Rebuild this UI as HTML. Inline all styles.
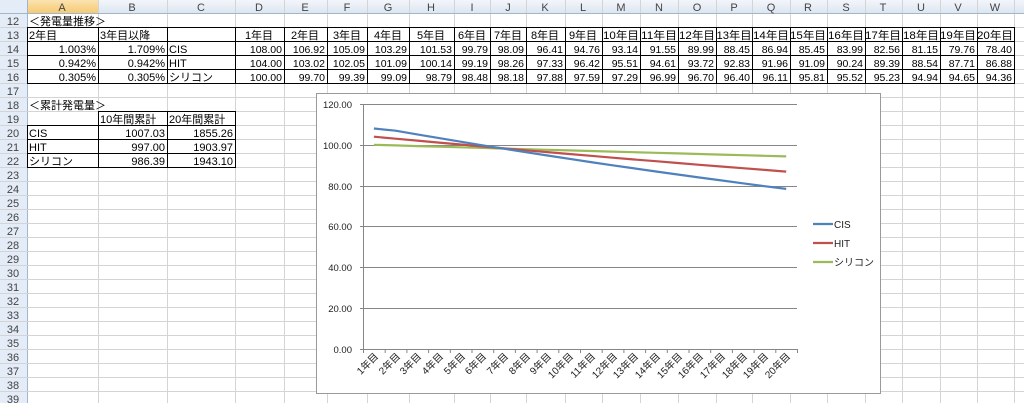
<!DOCTYPE html>
<html><head><meta charset="utf-8"><style>
html,body{margin:0;padding:0;background:#fff;}
svg{display:block;}
text{font-family:"Liberation Sans","Noto Sans CJK JP",sans-serif;}
</style></head><body>
<svg width="1024" height="403" viewBox="0 0 1024 403" xmlns="http://www.w3.org/2000/svg">
<defs><linearGradient id="hg" x1="0" y1="0" x2="0" y2="1"><stop offset="0" stop-color="#f3f6fb"/><stop offset="1" stop-color="#dce4ef"/></linearGradient>
<linearGradient id="ag" x1="0" y1="0" x2="0" y2="1"><stop offset="0" stop-color="#fbe3b0"/><stop offset="1" stop-color="#f5c870"/></linearGradient></defs>
<rect width="1024" height="403" fill="#fff"/>
<rect x="0" y="0" width="1024" height="14" fill="url(#hg)"/>
<rect x="0" y="0" width="27" height="403" fill="#e4ecf7"/>
<rect x="27" y="0" width="71" height="14" fill="url(#ag)"/>
<g stroke="#d4d4d4" stroke-width="1">
<line x1="27.5" y1="0" x2="27.5" y2="403" stroke="#9eb6ce"/>
<line x1="98.5" y1="0" x2="98.5" y2="403"/><line x1="167.5" y1="0" x2="167.5" y2="403"/><line x1="235.5" y1="0" x2="235.5" y2="403"/><line x1="284.5" y1="0" x2="284.5" y2="403"/><line x1="327.5" y1="0" x2="327.5" y2="403"/><line x1="367.5" y1="0" x2="367.5" y2="403"/><line x1="409.5" y1="0" x2="409.5" y2="403"/><line x1="454.5" y1="0" x2="454.5" y2="403"/><line x1="490.5" y1="0" x2="490.5" y2="403"/><line x1="526.5" y1="0" x2="526.5" y2="403"/><line x1="565.5" y1="0" x2="565.5" y2="403"/><line x1="602.5" y1="0" x2="602.5" y2="403"/><line x1="640.5" y1="0" x2="640.5" y2="403"/><line x1="678.5" y1="0" x2="678.5" y2="403"/><line x1="716.5" y1="0" x2="716.5" y2="403"/><line x1="752.5" y1="0" x2="752.5" y2="403"/><line x1="790.5" y1="0" x2="790.5" y2="403"/><line x1="827.5" y1="0" x2="827.5" y2="403"/><line x1="865.5" y1="0" x2="865.5" y2="403"/><line x1="902.5" y1="0" x2="902.5" y2="403"/><line x1="940.5" y1="0" x2="940.5" y2="403"/><line x1="977.5" y1="0" x2="977.5" y2="403"/><line x1="1014.5" y1="0" x2="1014.5" y2="403"/>
<line x1="0" y1="13.5" x2="1024" y2="13.5" stroke="#9eb6ce"/>
<line x1="0" y1="27.5" x2="1024" y2="27.5"/><line x1="0" y1="41.5" x2="1024" y2="41.5"/><line x1="0" y1="55.5" x2="1024" y2="55.5"/><line x1="0" y1="69.5" x2="1024" y2="69.5"/><line x1="0" y1="83.5" x2="1024" y2="83.5"/><line x1="0" y1="97.5" x2="1024" y2="97.5"/><line x1="0" y1="111.5" x2="1024" y2="111.5"/><line x1="0" y1="125.5" x2="1024" y2="125.5"/><line x1="0" y1="139.5" x2="1024" y2="139.5"/><line x1="0" y1="153.5" x2="1024" y2="153.5"/><line x1="0" y1="167.5" x2="1024" y2="167.5"/><line x1="0" y1="181.5" x2="1024" y2="181.5"/><line x1="0" y1="195.5" x2="1024" y2="195.5"/><line x1="0" y1="209.5" x2="1024" y2="209.5"/><line x1="0" y1="223.5" x2="1024" y2="223.5"/><line x1="0" y1="237.5" x2="1024" y2="237.5"/><line x1="0" y1="251.5" x2="1024" y2="251.5"/><line x1="0" y1="265.5" x2="1024" y2="265.5"/><line x1="0" y1="279.5" x2="1024" y2="279.5"/><line x1="0" y1="293.5" x2="1024" y2="293.5"/><line x1="0" y1="307.5" x2="1024" y2="307.5"/><line x1="0" y1="321.5" x2="1024" y2="321.5"/><line x1="0" y1="335.5" x2="1024" y2="335.5"/><line x1="0" y1="349.5" x2="1024" y2="349.5"/><line x1="0" y1="363.5" x2="1024" y2="363.5"/><line x1="0" y1="377.5" x2="1024" y2="377.5"/><line x1="0" y1="391.5" x2="1024" y2="391.5"/>
</g>
<g font-size="11" fill="#444" text-anchor="middle">
<text x="62" y="11">A</text><text x="132" y="11">B</text><text x="201" y="11">C</text><text x="259" y="11">D</text><text x="305" y="11">E</text><text x="347" y="11">F</text><text x="388" y="11">G</text><text x="431" y="11">H</text><text x="472" y="11">I</text><text x="508" y="11">J</text><text x="545" y="11">K</text><text x="583" y="11">L</text><text x="621" y="11">M</text><text x="659" y="11">N</text><text x="697" y="11">O</text><text x="734" y="11">P</text><text x="771" y="11">Q</text><text x="808" y="11">R</text><text x="846" y="11">S</text><text x="883" y="11">T</text><text x="921" y="11">U</text><text x="958" y="11">V</text><text x="995" y="11">W</text>
</g>
<g font-size="11" fill="#444" text-anchor="middle">
<text x="13" y="25">12</text><text x="13" y="39">13</text><text x="13" y="53">14</text><text x="13" y="67">15</text><text x="13" y="81">16</text><text x="13" y="95">17</text><text x="13" y="109">18</text><text x="13" y="123">19</text><text x="13" y="137">20</text><text x="13" y="151">21</text><text x="13" y="165">22</text><text x="13" y="179">23</text><text x="13" y="193">24</text><text x="13" y="207">25</text><text x="13" y="221">26</text><text x="13" y="235">27</text><text x="13" y="249">28</text><text x="13" y="263">29</text><text x="13" y="277">30</text><text x="13" y="291">31</text><text x="13" y="305">32</text><text x="13" y="319">33</text><text x="13" y="333">34</text><text x="13" y="347">35</text><text x="13" y="361">36</text><text x="13" y="375">37</text><text x="13" y="389">38</text><text x="13" y="403">39</text>
</g>
<g stroke="#000" stroke-width="1" fill="none">
<rect x="27.5" y="27.5" width="987" height="56"/>
<line x1="27" y1="41.5" x2="1014" y2="41.5"/><line x1="27" y1="55.5" x2="1014" y2="55.5"/><line x1="27" y1="69.5" x2="1014" y2="69.5"/>
<line x1="98.5" y1="28" x2="98.5" y2="84"/><line x1="167.5" y1="28" x2="167.5" y2="84"/><line x1="235.5" y1="28" x2="235.5" y2="84"/><line x1="284.5" y1="28" x2="284.5" y2="84"/><line x1="327.5" y1="28" x2="327.5" y2="84"/><line x1="367.5" y1="28" x2="367.5" y2="84"/><line x1="409.5" y1="28" x2="409.5" y2="84"/><line x1="454.5" y1="28" x2="454.5" y2="84"/><line x1="490.5" y1="28" x2="490.5" y2="84"/><line x1="526.5" y1="28" x2="526.5" y2="84"/><line x1="565.5" y1="28" x2="565.5" y2="84"/><line x1="602.5" y1="28" x2="602.5" y2="84"/><line x1="640.5" y1="28" x2="640.5" y2="84"/><line x1="678.5" y1="28" x2="678.5" y2="84"/><line x1="716.5" y1="28" x2="716.5" y2="84"/><line x1="752.5" y1="28" x2="752.5" y2="84"/><line x1="790.5" y1="28" x2="790.5" y2="84"/><line x1="827.5" y1="28" x2="827.5" y2="84"/><line x1="865.5" y1="28" x2="865.5" y2="84"/><line x1="902.5" y1="28" x2="902.5" y2="84"/><line x1="940.5" y1="28" x2="940.5" y2="84"/><line x1="977.5" y1="28" x2="977.5" y2="84"/>
<line x1="98" y1="111.5" x2="236" y2="111.5"/><line x1="27" y1="125.5" x2="236" y2="125.5"/><line x1="27" y1="139.5" x2="236" y2="139.5"/><line x1="27" y1="153.5" x2="236" y2="153.5"/><line x1="27" y1="167.5" x2="236" y2="167.5"/>
<line x1="27.5" y1="125" x2="27.5" y2="168"/><line x1="98.5" y1="111" x2="98.5" y2="168"/><line x1="167.5" y1="111" x2="167.5" y2="168"/><line x1="235.5" y1="111" x2="235.5" y2="168"/>
</g>
<g font-size="11" fill="#000">
<text x="29" y="25">＜発電量推移＞</text>
<text x="29" y="39">2年目</text><text x="100" y="39">3年目以降</text>
<text x="29" y="109">＜累計発電量＞</text>
<text x="169" y="53">CIS</text><text x="169" y="67">HIT</text><text x="169" y="81">シリコン</text>
<text x="100" y="123">10年間累計</text><text x="169" y="123">20年間累計</text>
<text x="29" y="137">CIS</text><text x="29" y="151">HIT</text><text x="29" y="165">シリコン</text>
</g>
<g font-size="11" fill="#000" text-anchor="end">
<text x="96" y="53">1.003%</text><text x="96" y="67">0.942%</text><text x="96" y="81">0.305%</text>
<text x="165" y="53">1.709%</text><text x="165" y="67">0.942%</text><text x="165" y="81">0.305%</text>
<text x="165" y="137">1007.03</text><text x="165" y="151">997.00</text><text x="165" y="165">986.39</text>
<text x="233" y="137">1855.26</text><text x="233" y="151">1903.97</text><text x="233" y="165">1943.10</text>
</g>
<g font-size="11" fill="#000" text-anchor="middle">
<text x="259" y="39">1年目</text><text x="305" y="39">2年目</text><text x="347" y="39">3年目</text><text x="388" y="39">4年目</text><text x="431" y="39">5年目</text><text x="472" y="39">6年目</text><text x="508" y="39">7年目</text><text x="545" y="39">8年目</text><text x="583" y="39">9年目</text><text x="621" y="39" textLength="36" lengthAdjust="spacingAndGlyphs">10年目</text><text x="659" y="39" textLength="36" lengthAdjust="spacingAndGlyphs">11年目</text><text x="697" y="39" textLength="36" lengthAdjust="spacingAndGlyphs">12年目</text><text x="734" y="39" textLength="35" lengthAdjust="spacingAndGlyphs">13年目</text><text x="771" y="39" textLength="36" lengthAdjust="spacingAndGlyphs">14年目</text><text x="808" y="39" textLength="36" lengthAdjust="spacingAndGlyphs">15年目</text><text x="846" y="39" textLength="36" lengthAdjust="spacingAndGlyphs">16年目</text><text x="883" y="39" textLength="36" lengthAdjust="spacingAndGlyphs">17年目</text><text x="921" y="39" textLength="36" lengthAdjust="spacingAndGlyphs">18年目</text><text x="958" y="39" textLength="36" lengthAdjust="spacingAndGlyphs">19年目</text><text x="995" y="39" textLength="36" lengthAdjust="spacingAndGlyphs">20年目</text>
</g>
<g font-size="10.5" fill="#000" text-anchor="end">
<text x="282" y="53">108.00</text><text x="325" y="53">106.92</text><text x="365" y="53">105.09</text><text x="407" y="53">103.29</text><text x="452" y="53">101.53</text><text x="488" y="53">99.79</text><text x="524" y="53">98.09</text><text x="563" y="53">96.41</text><text x="600" y="53">94.76</text><text x="638" y="53">93.14</text><text x="676" y="53">91.55</text><text x="714" y="53">89.99</text><text x="750" y="53">88.45</text><text x="788" y="53">86.94</text><text x="825" y="53">85.45</text><text x="863" y="53">83.99</text><text x="900" y="53">82.56</text><text x="938" y="53">81.15</text><text x="975" y="53">79.76</text><text x="1012" y="53">78.40</text>
<text x="282" y="67">104.00</text><text x="325" y="67">103.02</text><text x="365" y="67">102.05</text><text x="407" y="67">101.09</text><text x="452" y="67">100.14</text><text x="488" y="67">99.19</text><text x="524" y="67">98.26</text><text x="563" y="67">97.33</text><text x="600" y="67">96.42</text><text x="638" y="67">95.51</text><text x="676" y="67">94.61</text><text x="714" y="67">93.72</text><text x="750" y="67">92.83</text><text x="788" y="67">91.96</text><text x="825" y="67">91.09</text><text x="863" y="67">90.24</text><text x="900" y="67">89.39</text><text x="938" y="67">88.54</text><text x="975" y="67">87.71</text><text x="1012" y="67">86.88</text>
<text x="282" y="81">100.00</text><text x="325" y="81">99.70</text><text x="365" y="81">99.39</text><text x="407" y="81">99.09</text><text x="452" y="81">98.79</text><text x="488" y="81">98.48</text><text x="524" y="81">98.18</text><text x="563" y="81">97.88</text><text x="600" y="81">97.59</text><text x="638" y="81">97.29</text><text x="676" y="81">96.99</text><text x="714" y="81">96.70</text><text x="750" y="81">96.40</text><text x="788" y="81">96.11</text><text x="825" y="81">95.81</text><text x="863" y="81">95.52</text><text x="900" y="81">95.23</text><text x="938" y="81">94.94</text><text x="975" y="81">94.65</text><text x="1012" y="81">94.36</text>
</g>
<rect x="316.5" y="93.5" width="564" height="300" fill="#fff" stroke="#9a9a9a"/>
<g stroke="#868686" stroke-width="1">
<line x1="360" y1="104.5" x2="797" y2="104.5"/><line x1="360" y1="145.5" x2="797" y2="145.5"/><line x1="360" y1="186.5" x2="797" y2="186.5"/><line x1="360" y1="226.5" x2="797" y2="226.5"/><line x1="360" y1="267.5" x2="797" y2="267.5"/><line x1="360" y1="308.5" x2="797" y2="308.5"/><line x1="360" y1="349.5" x2="797" y2="349.5"/>
<line x1="363.5" y1="104" x2="363.5" y2="350"/>
<path d="M363.5 349v4M385.2 349v4M406.9 349v4M428.6 349v4M450.3 349v4M472 349v4M493.7 349v4M515.4 349v4M537.1 349v4M558.8 349v4M580.5 349v4M602.2 349v4M623.9 349v4M645.6 349v4M667.3 349v4M689 349v4M710.7 349v4M732.4 349v4M754.1 349v4M775.8 349v4M797.5 349v4"/>
</g>
<g font-size="9.5" fill="#222" text-anchor="end">
<text x="352" y="108">120.00</text><text x="352" y="149">100.00</text><text x="352" y="190">80.00</text><text x="352" y="230">60.00</text><text x="352" y="271">40.00</text><text x="352" y="312">20.00</text><text x="352" y="353">0.00</text>
</g>
<g font-size="10" fill="#222" text-anchor="end">
<text transform="translate(379,357) rotate(-45)">1年目</text><text transform="translate(401,357) rotate(-45)">2年目</text><text transform="translate(422,357) rotate(-45)">3年目</text><text transform="translate(444,357) rotate(-45)">4年目</text><text transform="translate(466,357) rotate(-45)">5年目</text><text transform="translate(487,357) rotate(-45)">6年目</text><text transform="translate(509,357) rotate(-45)">7年目</text><text transform="translate(531,357) rotate(-45)">8年目</text><text transform="translate(552,357) rotate(-45)">9年目</text><text transform="translate(574,357) rotate(-45)">10年目</text><text transform="translate(596,357) rotate(-45)">11年目</text><text transform="translate(618,357) rotate(-45)">12年目</text><text transform="translate(639,357) rotate(-45)">13年目</text><text transform="translate(661,357) rotate(-45)">14年目</text><text transform="translate(683,357) rotate(-45)">15年目</text><text transform="translate(704,357) rotate(-45)">16年目</text><text transform="translate(726,357) rotate(-45)">17年目</text><text transform="translate(748,357) rotate(-45)">18年目</text><text transform="translate(769,357) rotate(-45)">19年目</text><text transform="translate(791,357) rotate(-45)">20年目</text>
</g>
<g fill="none" stroke-width="2.2" stroke-linejoin="round">
<polyline stroke="#9bbb59" points="373.9,144.8 395.6,145.4 417.3,146.1 439,146.7 460.7,147.3 482.4,147.9 504.1,148.6 525.8,149.2 547.5,149.8 569.2,150.4 590.9,151 612.6,151.6 634.3,152.2 656,152.8 677.7,153.4 699.4,154 721.1,154.6 742.8,155.2 764.5,155.8 786.2,156.4"/>
<polyline stroke="#c0504d" points="373.9,136.7 395.6,138.7 417.3,140.6 439,142.6 460.7,144.5 482.4,146.5 504.1,148.4 525.8,150.3 547.5,152.1 569.2,154 590.9,155.8 612.6,157.7 634.3,159.5 656,161.2 677.7,163 699.4,164.8 721.1,166.5 742.8,168.2 764.5,169.9 786.2,171.6"/>
<polyline stroke="#4f81bd" points="373.9,128.5 395.6,130.7 417.3,134.4 439,138.1 460.7,141.7 482.4,145.3 504.1,148.7 525.8,152.2 547.5,155.5 569.2,158.8 590.9,162.1 612.6,165.3 634.3,168.4 656,171.5 677.7,174.5 699.4,177.5 721.1,180.4 742.8,183.3 764.5,186.2 786.2,188.9"/>
<line x1="813" y1="224" x2="833" y2="224" stroke="#4f81bd"/>
<line x1="813" y1="243" x2="833" y2="243" stroke="#c0504d"/>
<line x1="813" y1="262" x2="833" y2="262" stroke="#9bbb59"/>
</g>
<g font-size="10" fill="#222">
<text x="834" y="228">CIS</text><text x="834" y="247">HIT</text><text x="834" y="266">シリコン</text>
</g>
</svg>
</body></html>
